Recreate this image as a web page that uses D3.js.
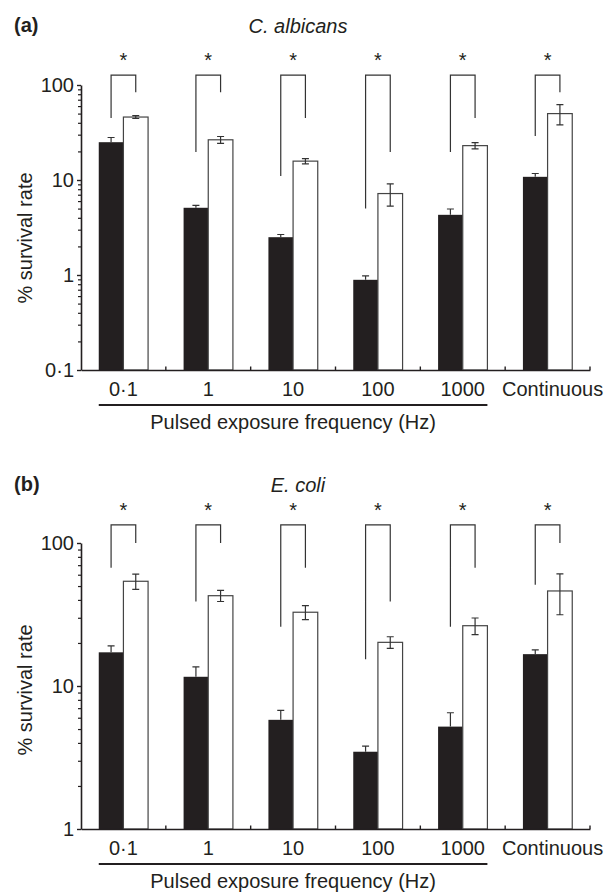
<!DOCTYPE html>
<html>
<head>
<meta charset="utf-8">
<script src="https://cdn.jsdelivr.net/npm/d3@7"></script>
<style>
  body { margin: 0; background: #fff; }
  svg { display: block; font-family: "Liberation Sans", Arial, Helvetica, sans-serif; }
</style>
</head>
<body>
<svg id="chart" width="613" height="893"></svg>
<script>
// categories (pulsed frequency in Hz, then continuous exposure)
const groups = ["0·1", "1", "10", "100", "1000", "Continuous"];
const seriesKeys = ["solid", "open"];

// (a) C. albicans
const albicansSolid = [25, 5.1, 2.5, 0.89, 4.3, 10.8];
const albicansSolidErr = [3, 0.3, 0.17, 0.09, 0.65, 0.9];
const albicansOpen = [46, 26.5, 15.8, 7.2, 23, 50];
const albicansOpenErr = [1.6, 2.2, 1.0, 1.9, 1.7, 12];
const albicansBracketTop = 127;
const albicansLegSolid = [45, 19.7, 11, 5, 19.7, 29];
const albicansLegOpen = [84, 84, 45, 19.7, 45, 84];
const albicansTicks = [0.1, 1, 10, 100];

// (b) E. coli
const coliSolid = [17.2, 11.6, 5.8, 3.47, 5.2, 16.7];
const coliSolidErr = [1.9, 2.0, 0.95, 0.33, 1.3, 1.2];
const coliOpen = [54, 42.8, 32.8, 20.2, 26.4, 46.2];
const coliOpenErr = [6.6, 3.8, 3.7, 1.9, 3.5, 14.7];
const coliBracketTop = 134;
const coliLegSolid = [67, 39, 26, 15.4, 26, 51];
const coliLegOpen = [100, 100, 67, 39, 67, 100];
const coliTicks = [1, 10, 100];

const svg = d3.select("#chart");
const fontSize = 20;
const ink = "#231f20";

const x = d3.scaleBand().domain(groups).range([81, 590]).padding(0);
const xs = d3.scaleBand().domain(seriesKeys).range([0, x.bandwidth()]).paddingOuter(0.72);

const fmt = v => String(v).replace(".", "·");

function drawPanel(p) {
    const g = svg.append("g");
    const y = d3.scaleLog().domain(p.domain).range([p.bottom, p.top]);

    // panel letter and organism title
    g.append("text").attr("x", 14).attr("y", p.titleY)
        .attr("font-size", fontSize).attr("font-weight", "bold").attr("fill", ink)
        .text(p.letter);
    g.append("text").attr("x", 298).attr("y", p.titleY + 1)
        .attr("text-anchor", "middle").attr("font-size", fontSize)
        .attr("font-style", "italic").attr("fill", ink)
        .text(p.title);

    const rows = groups.map((k, i) => ({
        key: k, solid: p.solid[i], solidErr: p.solidErr[i],
        open: p.open[i], openErr: p.openErr[i],
        legSolid: p.legSolid[i], legOpen: p.legOpen[i]
    }));

    const grp = g.selectAll("g.grp").data(rows).join("g")
        .attr("class", "grp")
        .attr("transform", d => `translate(${x(d.key)},0)`);

    // solid bars with upward error bar
    grp.append("rect")
        .attr("x", xs("solid")).attr("width", xs.bandwidth())
        .attr("y", d => y(d.solid)).attr("height", d => p.bottom - y(d.solid))
        .attr("fill", ink);
    grp.append("path")
        .attr("d", d => {
            const cx = xs("solid") + xs.bandwidth() / 2;
            const t = y(d.solid + d.solidErr);
            return `M${cx},${y(d.solid)}V${t}M${cx - 3.5},${t}H${cx + 3.5}`;
        })
        .attr("stroke", "#333").attr("stroke-width", 1.2).attr("fill", "none");

    // open bars with two-sided error bar
    grp.append("rect")
        .attr("x", xs("open")).attr("width", xs.bandwidth())
        .attr("y", d => y(d.open)).attr("height", d => p.bottom - y(d.open))
        .attr("fill", "#fff").attr("stroke", "#444").attr("stroke-width", 1.2);
    grp.append("path")
        .attr("d", d => {
            const cx = xs("open") + xs.bandwidth() / 2;
            const t = y(d.open + d.openErr), b = y(d.open - d.openErr);
            return `M${cx},${b}V${t}M${cx - 3.5},${t}H${cx + 3.5}M${cx - 3.5},${b}H${cx + 3.5}`;
        })
        .attr("stroke", "#333").attr("stroke-width", 1.2).attr("fill", "none");

    // significance brackets
    grp.append("path")
        .attr("d", d => {
            const l = xs("solid") + xs.bandwidth() / 2;
            const r = xs("open") + xs.bandwidth() / 2;
            const top = y(p.bracketTop);
            return `M${l},${y(d.legSolid)}V${top}H${r}V${y(d.legOpen)}`;
        })
        .attr("stroke", "#333").attr("stroke-width", 1.2).attr("fill", "none");
    grp.append("text")
        .attr("x", x.bandwidth() / 2).attr("y", y(p.bracketTop) - 8)
        .attr("text-anchor", "middle").attr("font-size", fontSize).attr("fill", ink)
        .text("*");

    // y axis: labelled decades and minor ticks
    const minor = y.ticks().filter(v => !p.ticks.includes(v));
    g.append("g").attr("transform", "translate(81,0)")
        .call(d3.axisLeft(y).tickValues(minor).tickSize(3).tickFormat(""))
        .call(a => a.select(".domain").remove())
        .call(a => a.selectAll("line").attr("stroke", ink).attr("stroke-width", 1.2));
    g.append("g").attr("transform", "translate(81,0)")
        .call(d3.axisLeft(y).tickValues(p.ticks).tickSize(4).tickSizeOuter(0).tickPadding(3).tickFormat(fmt))
        .call(a => a.select(".domain").attr("stroke", ink).attr("stroke-width", 1.6))
        .call(a => a.selectAll("line").attr("stroke", ink).attr("stroke-width", 1.4))
        .call(a => a.selectAll("text").attr("font-size", fontSize).attr("fill", ink)
            .attr("font-family", null));

    // x axis with small upward ticks at group boundaries
    g.append("g").attr("transform", `translate(0,${p.bottom})`)
        .call(d3.axisBottom(x).tickSize(0).tickSizeOuter(0).tickPadding(12))
        .call(a => a.select(".domain").attr("stroke", ink).attr("stroke-width", 1.6))
        .call(a => a.selectAll("text").attr("font-size", fontSize).attr("fill", ink)
            .attr("font-family", null)
            .attr("dx", d => d === "Continuous" ? 5 : 0));
    g.selectAll("line.bound").data(groups).join("line")
        .attr("class", "bound")
        .attr("x1", d => x(d) + x.bandwidth()).attr("x2", d => x(d) + x.bandwidth())
        .attr("y1", p.bottom).attr("y2", p.bottom - 3.5)
        .attr("stroke", ink).attr("stroke-width", 1.4);

    // underline spanning the pulsed frequencies
    const u0 = x(groups[0]) + xs("solid");
    const u1 = x(groups[4]) + xs("open") + xs.bandwidth();
    g.append("line")
        .attr("x1", u0).attr("x2", u1)
        .attr("y1", p.bottom + 35).attr("y2", p.bottom + 35)
        .attr("stroke", ink).attr("stroke-width", 1.8);
    g.append("text")
        .attr("x", (u0 + u1) / 2).attr("y", p.bottom + 59)
        .attr("text-anchor", "middle").attr("font-size", fontSize).attr("fill", ink)
        .text("Pulsed exposure frequency (Hz)");

    // y axis title
    g.append("text")
        .attr("transform", `translate(32,${p.labelY}) rotate(-90)`)
        .attr("text-anchor", "middle").attr("font-size", fontSize).attr("fill", ink)
        .text("% survival rate");
}

drawPanel({
    letter: "(a)", title: "C. albicans", titleY: 32,
    domain: [0.1, 100], top: 85, bottom: 370, labelY: 238,
    solid: albicansSolid, solidErr: albicansSolidErr,
    open: albicansOpen, openErr: albicansOpenErr,
    bracketTop: albicansBracketTop, legSolid: albicansLegSolid, legOpen: albicansLegOpen,
    ticks: albicansTicks
});

drawPanel({
    letter: "(b)", title: "E. coli", titleY: 491,
    domain: [1, 100], top: 543, bottom: 829, labelY: 690,
    solid: coliSolid, solidErr: coliSolidErr,
    open: coliOpen, openErr: coliOpenErr,
    bracketTop: coliBracketTop, legSolid: coliLegSolid, legOpen: coliLegOpen,
    ticks: coliTicks
});
</script>
</body>
</html>
